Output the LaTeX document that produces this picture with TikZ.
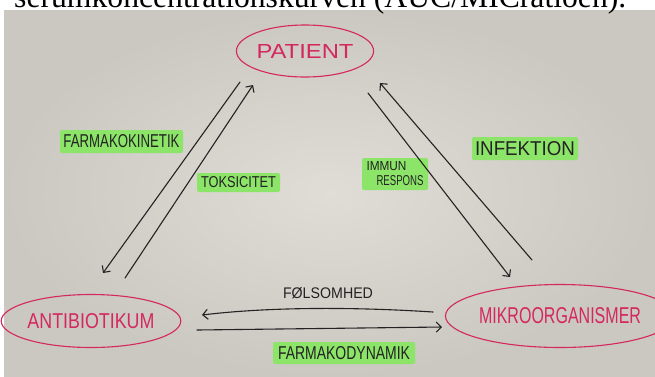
\documentclass[tikz,border=0pt]{standalone}
\usepackage{fontspec}
\setmainfont{Liberation Sans}
\newfontfamily\serifcap{Liberation Serif}
\usetikzlibrary{shapes.geometric,arrows.meta}
\definecolor{paper}{RGB}{224,221,215}
\definecolor{paperdark}{RGB}{203,199,193}
\definecolor{ink}{RGB}{35,35,35}
\definecolor{pinkink}{RGB}{212,40,95}
\definecolor{hl}{RGB}{140,228,105}
\newcommand{\fitbox}[3]{\resizebox{#1pt}{#2pt}{#3}}
\tikzset{
  entity/.style={ellipse, draw=pinkink, line width=1.1pt, inner sep=0pt, text=pinkink},
  hlabel/.style={fill=hl, rounded corners=2pt, inner sep=0pt, text=ink},
  lbl/.style={inner sep=0pt, text=ink},
  flow/.style={draw=ink, line width=1.1pt, line cap=round,
    -{Straight Barb[length=5pt,width=10pt,line width=1.1pt]}}
}
\begin{document}
\begin{tikzpicture}[x=1pt,y=-1pt]
\useasboundingbox (0,0) rectangle (655,376);
\clip (0,0) rectangle (655,376);
\fill[white] (0,0) rectangle (655,376);
\shade[inner color=paper, outer color=paperdark] (4,10) rectangle (655,376);
% clipped caption line above the photo
\node[anchor=base west, inner sep=0pt] (caption) at (14,7.5)
  {\resizebox{612pt}{!}{\serifcap serumkoncentrationskurven (AUC/MICratioen).}};
% entities
\node[entity, minimum width=124pt, minimum height=52pt] (patient) at (305,51) {\fitbox{97}{14}{PATIENT}};
\node[entity, minimum width=152pt, minimum height=53pt] (antibiotikum) at (91,321) {\fitbox{127}{15}{ANTIBIOTIKUM}};
\node[entity, minimum width=184pt, minimum height=63pt] (mikro) at (560,316) {\fitbox{162}{16}{MIKROORGANISMER}};
% labels
\node[hlabel, minimum width=123pt, minimum height=23pt] (farmakokinetik) at (121.5,141.5) {\fitbox{116}{13}{FARMAKOKINETIK}};
\node[hlabel, minimum width=83pt, minimum height=19pt] (toksicitet) at (238.5,182.5) {\fitbox{75}{11}{TOKSICITET}};
\node[hlabel, minimum width=106pt, minimum height=23pt] (infektion) at (525,148.5) {\fitbox{100}{14}{INFEKTION}};
\node[hlabel, minimum width=66pt, minimum height=32pt, align=left, font=\fontsize{10}{15}\selectfont] (immun) at (395,174)
  {\fitbox{40}{9}{IMMUN}\\\hspace*{10pt}\fitbox{47}{10}{RESPONS}};
\node[lbl] (folsomhed) at (328,293.5) {\fitbox{90}{11}{FØLSOMHED}};
\node[hlabel, minimum width=142pt, minimum height=22pt] (farmakodynamik) at (344,353) {\fitbox{132}{13}{FARMAKODYNAMIK}};
% connector end points
\coordinate (pa1) at (240,82);   \coordinate (ab1) at (103,273);
\coordinate (ab2) at (125,278);  \coordinate (pa2) at (253,85);
\coordinate (pa3) at (368,93);   \coordinate (mo3) at (510,277);
\coordinate (mo4) at (532,260);  \coordinate (pa4) at (380,83);
\coordinate (mo5) at (433,312);  \coordinate (ab5) at (202,315);
\coordinate (ab6) at (197,330);  \coordinate (mo6) at (442,327);
% connectors
\draw[flow] (pa1) -- (ab1);
\draw[flow] (ab2) -- (pa2);
\draw[flow] (pa3) -- (mo3);
\draw[flow] (mo4) -- (pa4);
\draw[flow] (mo5) .. controls (340,306) and (260,308) .. (ab5);
\draw[flow] (ab6) -- (mo6);
\end{tikzpicture}
\end{document}
